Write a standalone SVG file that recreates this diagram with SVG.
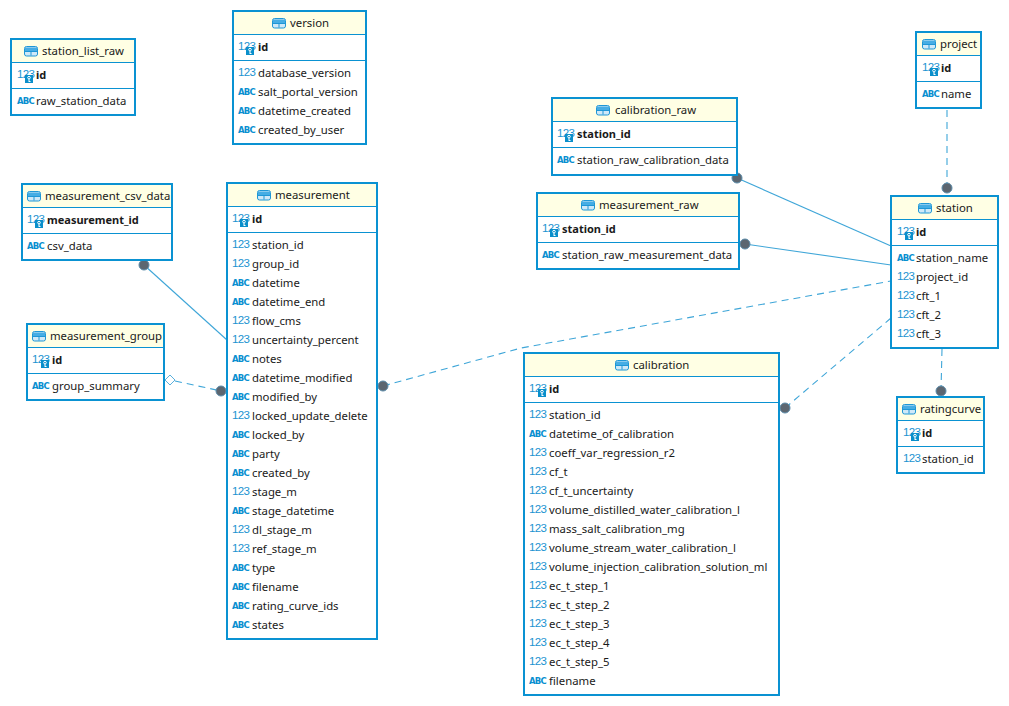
<svg xmlns="http://www.w3.org/2000/svg" width="1009" height="706" viewBox="0 0 1009 706">
<style>
text{font-family:"Noto Sans","Liberation Sans",sans-serif;font-size:11.35px;fill:#1a1a1a;dominant-baseline:central}
.b{font-weight:700;font-size:11px}
.n{fill:#1b93d1;font-size:11.5px;letter-spacing:-.7px;font-family:"Liberation Sans",sans-serif;transform:translateY(.5px)}
.a{fill:#0a8fd0;font-size:8.5px;font-weight:700;font-family:"DejaVu Sans",sans-serif;letter-spacing:-.8px;transform:translateY(1.5px)}
.box{fill:#fff;stroke:#0a92d2;stroke-width:2}
.hd{fill:#ffffe4}
.sep{stroke:#0a92d2;stroke-width:1}
.c{fill:none;stroke:#3fa6d8;stroke-width:1.1}
.d{stroke-dasharray:7 5}
.dot{fill:#5c6670;stroke:#5a8aa8;stroke-width:1}
</style>
<defs>
<g id="tbl"><rect x=".5" y=".5" width="13" height="9.500" rx="2" fill="#cfe9f8" stroke="#1f97d6"/><path d="M1 1.500h12v3.500H1z" fill="#46ade4"/><path d="M1 5.500h12M7 5.500v4" stroke="#1f97d6" fill="none"/></g>
<g id="key"><rect width="8" height="8" fill="#0a8fcb"/><circle cx="4" cy="2.600" r="1.300" fill="none" stroke="#fff"/><path d="M4 4v3M4 6.500h1.500" stroke="#fff" fill="none"/></g>
</defs>
<g id="connectors">
<path class="c" d="M144 265L227 340"/>
<path class="c d" d="M175 381L221 391"/>
<path class="c" d="M737 178L891 246"/>
<path class="c" d="M745 244L891 265"/>
<path class="c d" d="M383 386L521 348L891 281"/>
<path class="c d" d="M785 408L891 318"/>
<path class="c d" d="M947 110L947 188"/>
<path class="c d" d="M942 349L941 391"/>
<circle class="dot" cx="144" cy="265" r="5"/>
<circle class="dot" cx="221" cy="391" r="5"/>
<path d="M165 380L170 375L175 380L170 385Z" fill="#fff" stroke="#5ab0dd"/>
<circle class="dot" cx="737" cy="178" r="5"/>
<circle class="dot" cx="745" cy="244" r="5"/>
<circle class="dot" cx="383" cy="386" r="5"/>
<circle class="dot" cx="785" cy="408" r="5"/>
<circle class="dot" cx="947" cy="188" r="5"/>
<circle class="dot" cx="941" cy="391" r="5"/>
</g>
<g id="station_list_raw">
<rect class="box" x="11" y="39" width="124" height="76"/><rect class="hd" x="12" y="40" width="122" height="22"/>
<path class="sep" d="M12 62.500H134M12 88.500H134"/>
<use href="#tbl" x="24" y="46"/><text x="42" y="50">station_list_raw</text>
<text class="n" x="17" y="73">123</text><use href="#key" x="25" y="75"/><text class="b" x="36" y="74">id</text>
<text class="a" x="17" y="99">ABC</text><text x="36" y="100">raw_station_data</text>
</g>
<g id="version">
<rect class="box" x="233" y="11" width="133" height="133"/><rect class="hd" x="234" y="12" width="131" height="22"/>
<path class="sep" d="M234 34.500H365M234 60.500H365"/>
<use href="#tbl" x="272" y="18"/><text x="290" y="22">version</text>
<text class="n" x="238" y="45">123</text><use href="#key" x="246" y="47"/><text class="b" x="258" y="46">id</text>
<text class="n" x="238" y="71">123</text><text x="258" y="72">database_version</text>
<text class="a" x="238" y="90">ABC</text><text x="258" y="91">salt_portal_version</text>
<text class="a" x="238" y="109">ABC</text><text x="258" y="110">datetime_created</text>
<text class="a" x="238" y="128">ABC</text><text x="258" y="129">created_by_user</text>
</g>
<g id="measurement_csv_data">
<rect class="box" x="22" y="184" width="150" height="76"/><rect class="hd" x="23" y="185" width="148" height="22"/>
<path class="sep" d="M23 207.500H171M23 233.500H171"/>
<use href="#tbl" x="27" y="191"/><text x="45" y="195">measurement_csv_data</text>
<text class="n" x="27" y="218">123</text><use href="#key" x="35" y="220"/><text class="b" x="47" y="219">measurement_id</text>
<text class="a" x="27" y="244">ABC</text><text x="47" y="245">csv_data</text>
</g>
<g id="measurement_group">
<rect class="box" x="27" y="324" width="137" height="76"/><rect class="hd" x="28" y="325" width="135" height="22"/>
<path class="sep" d="M28 347.500H163M28 373.500H163"/>
<use href="#tbl" x="32" y="331"/><text x="50" y="335">measurement_group</text>
<text class="n" x="32" y="358">123</text><use href="#key" x="41" y="360"/><text class="b" x="52" y="359">id</text>
<text class="a" x="32" y="384">ABC</text><text x="52" y="385">group_summary</text>
</g>
<g id="measurement">
<rect class="box" x="227" y="183" width="150" height="456"/><rect class="hd" x="228" y="184" width="148" height="22"/>
<path class="sep" d="M228 206.500H376M228 232.500H376"/>
<use href="#tbl" x="257" y="190"/><text x="275" y="194">measurement</text>
<text class="n" x="232" y="217">123</text><use href="#key" x="240" y="219"/><text class="b" x="252" y="218">id</text>
<text class="n" x="232" y="243">123</text><text x="252" y="244">station_id</text>
<text class="n" x="232" y="262">123</text><text x="252" y="263">group_id</text>
<text class="a" x="232" y="281">ABC</text><text x="252" y="282">datetime</text>
<text class="a" x="232" y="300">ABC</text><text x="252" y="301">datetime_end</text>
<text class="n" x="232" y="319">123</text><text x="252" y="320">flow_cms</text>
<text class="n" x="232" y="338">123</text><text x="252" y="339">uncertainty_percent</text>
<text class="a" x="232" y="357">ABC</text><text x="252" y="358">notes</text>
<text class="a" x="232" y="376">ABC</text><text x="252" y="377">datetime_modified</text>
<text class="a" x="232" y="395">ABC</text><text x="252" y="396">modified_by</text>
<text class="n" x="232" y="414">123</text><text x="252" y="415">locked_update_delete</text>
<text class="a" x="232" y="433">ABC</text><text x="252" y="434">locked_by</text>
<text class="a" x="232" y="452">ABC</text><text x="252" y="453">party</text>
<text class="a" x="232" y="471">ABC</text><text x="252" y="472">created_by</text>
<text class="n" x="232" y="490">123</text><text x="252" y="491">stage_m</text>
<text class="a" x="232" y="509">ABC</text><text x="252" y="510">stage_datetime</text>
<text class="n" x="232" y="528">123</text><text x="252" y="529">dl_stage_m</text>
<text class="n" x="232" y="547">123</text><text x="252" y="548">ref_stage_m</text>
<text class="a" x="232" y="566">ABC</text><text x="252" y="567">type</text>
<text class="a" x="232" y="585">ABC</text><text x="252" y="586">filename</text>
<text class="a" x="232" y="604">ABC</text><text x="252" y="605">rating_curve_ids</text>
<text class="a" x="232" y="623">ABC</text><text x="252" y="624">states</text>
</g>
<g id="calibration_raw">
<rect class="box" x="552" y="98" width="185" height="77"/><rect class="hd" x="553" y="99" width="183" height="22"/>
<path class="sep" d="M553 121.500H736M553 147.500H736"/>
<use href="#tbl" x="596" y="105"/><text x="615" y="109">calibration_raw</text>
<text class="n" x="557" y="132">123</text><use href="#key" x="565" y="134"/><text class="b" x="577" y="133">station_id</text>
<text class="a" x="557" y="158">ABC</text><text x="577" y="159">station_raw_calibration_data</text>
</g>
<g id="measurement_raw">
<rect class="box" x="537" y="193" width="202" height="76"/><rect class="hd" x="538" y="194" width="200" height="22"/>
<path class="sep" d="M538 216.500H738M538 242.500H738"/>
<use href="#tbl" x="581" y="200"/><text x="599" y="204">measurement_raw</text>
<text class="n" x="542" y="227">123</text><use href="#key" x="550" y="229"/><text class="b" x="562" y="228">station_id</text>
<text class="a" x="542" y="253">ABC</text><text x="562" y="254">station_raw_measurement_data</text>
</g>
<g id="calibration">
<rect class="box" x="524" y="353" width="255" height="342"/><rect class="hd" x="525" y="354" width="253" height="22"/>
<path class="sep" d="M525 376.500H778M525 402.500H778"/>
<use href="#tbl" x="615" y="360"/><text x="633" y="364">calibration</text>
<text class="n" x="529" y="387">123</text><use href="#key" x="538" y="389"/><text class="b" x="549" y="388">id</text>
<text class="n" x="529" y="413">123</text><text x="549" y="414">station_id</text>
<text class="a" x="529" y="432">ABC</text><text x="549" y="433">datetime_of_calibration</text>
<text class="n" x="529" y="451">123</text><text x="549" y="452">coeff_var_regression_r2</text>
<text class="n" x="529" y="470">123</text><text x="549" y="471">cf_t</text>
<text class="n" x="529" y="489">123</text><text x="549" y="490">cf_t_uncertainty</text>
<text class="n" x="529" y="508">123</text><text x="549" y="509">volume_distilled_water_calibration_l</text>
<text class="n" x="529" y="527">123</text><text x="549" y="528">mass_salt_calibration_mg</text>
<text class="n" x="529" y="546">123</text><text x="549" y="547">volume_stream_water_calibration_l</text>
<text class="n" x="529" y="565">123</text><text x="549" y="566">volume_injection_calibration_solution_ml</text>
<text class="n" x="529" y="584">123</text><text x="549" y="585">ec_t_step_1</text>
<text class="n" x="529" y="603">123</text><text x="549" y="604">ec_t_step_2</text>
<text class="n" x="529" y="622">123</text><text x="549" y="623">ec_t_step_3</text>
<text class="n" x="529" y="641">123</text><text x="549" y="642">ec_t_step_4</text>
<text class="n" x="529" y="660">123</text><text x="549" y="661">ec_t_step_5</text>
<text class="a" x="529" y="679">ABC</text><text x="549" y="680">filename</text>
</g>
<g id="station">
<rect class="box" x="891" y="196" width="107" height="152"/><rect class="hd" x="892" y="197" width="105" height="22"/>
<path class="sep" d="M892 219.500H997M892 245.500H997"/>
<use href="#tbl" x="918" y="203"/><text x="936" y="207">station</text>
<text class="n" x="897" y="230">123</text><use href="#key" x="905" y="232"/><text class="b" x="916" y="231">id</text>
<text class="a" x="897" y="256">ABC</text><text x="916" y="257">station_name</text>
<text class="n" x="897" y="275">123</text><text x="916" y="276">project_id</text>
<text class="n" x="897" y="294">123</text><text x="916" y="295">cft_1</text>
<text class="n" x="897" y="313">123</text><text x="916" y="314">cft_2</text>
<text class="n" x="897" y="332">123</text><text x="916" y="333">cft_3</text>
</g>
<g id="project">
<rect class="box" x="916" y="32" width="65" height="76"/><rect class="hd" x="917" y="33" width="63" height="22"/>
<path class="sep" d="M917 55.500H980M917 81.500H980"/>
<use href="#tbl" x="922" y="39"/><text x="940" y="43">project</text>
<text class="n" x="922" y="66">123</text><use href="#key" x="930" y="68"/><text class="b" x="941" y="67">id</text>
<text class="a" x="922" y="92">ABC</text><text x="941" y="93">name</text>
</g>
<g id="ratingcurve">
<rect class="box" x="897" y="397" width="87" height="76"/><rect class="hd" x="898" y="398" width="85" height="22"/>
<path class="sep" d="M898 420.500H983M898 446.500H983"/>
<use href="#tbl" x="902" y="404"/><text x="920" y="408">ratingcurve</text>
<text class="n" x="903" y="431">123</text><use href="#key" x="911" y="433"/><text class="b" x="922" y="432">id</text>
<text class="n" x="903" y="457">123</text><text x="922" y="458">station_id</text>
</g>
</svg>
